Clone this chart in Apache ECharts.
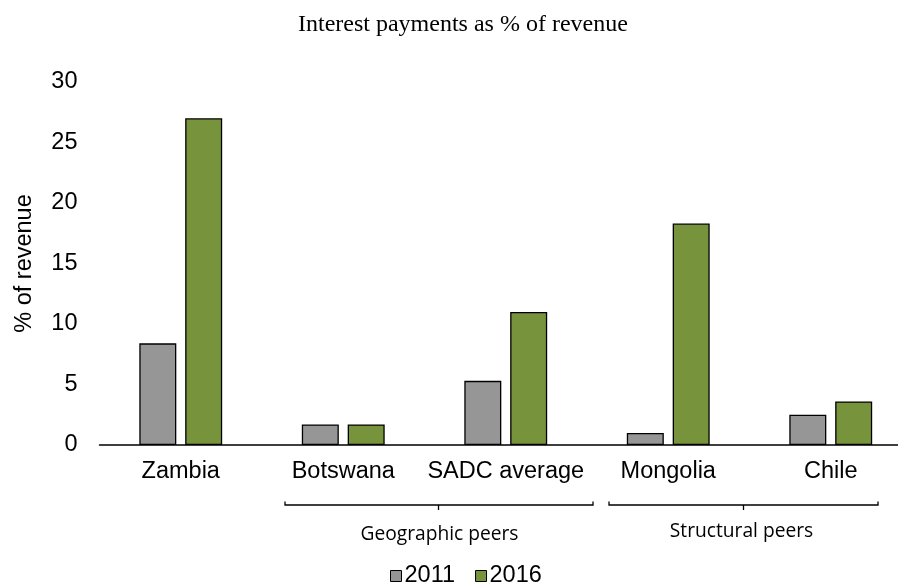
<!DOCTYPE html>
<html>
<head>
<meta charset="utf-8">
<script src="https://cdn.jsdelivr.net/npm/echarts@6/dist/echarts.min.js"></script>
<style>html,body{margin:0;padding:0;background:#fff;overflow:hidden;width:898px;height:583px}#c{width:912px;height:583px}</style>
</head>
<body>
<div id="c"></div>
<script>
var categories = ['Zambia', 'Botswana', 'SADC average', 'Mongolia', 'Chile'];
var series2011 = [8.4, 1.7, 5.3, 1.0, 2.5];
var series2016 = [27.0, 1.7, 11.0, 18.3, 3.6];
var seriesNames = ['2011', '2016'];
var yTicks = { min: 0, max: 30, interval: 5 };
var groupLabels = ['Geographic peers', 'Structural peers'];

var chart = echarts.init(document.getElementById('c'), null, { renderer: 'canvas' });
var axisFont = 'Liberation Sans, Arial, sans-serif';
var groupFont = 'Open Sans, sans-serif';
var option = {
  animation: false,
  backgroundColor: '#ffffff',
  title: {
    text: 'Interest payments as % of revenue',
    left: 293,
    top: 8,
    textStyle: { fontFamily: 'Liberation Serif, Times New Roman, serif', fontSize: 24, fontWeight: 'normal', color: '#000' }
  },
  grid: { left: 99.5, right: 0, top: 82, bottom: 138, containLabel: false },
  legend: {
    data: seriesNames,
    left: 385,
    top: 559,
    itemWidth: 11,
    itemHeight: 11,
    itemGap: 20,
    icon: 'rect',
    textStyle: { fontFamily: axisFont, fontSize: 23.5, color: '#000', padding: [0, 0, 0, -2] },
    itemStyle: { borderColor: '#000', borderWidth: 1 }
  },
  xAxis: {
    type: 'category',
    data: categories,
    axisLine: { lineStyle: { color: '#000', width: 1.5 } },
    axisTick: { show: false },
    axisLabel: { margin: 15, fontFamily: axisFont, fontSize: 23.5, color: '#000', interval: 0 },
    splitLine: { show: false }
  },
  yAxis: {
    type: 'value',
    min: yTicks.min, max: yTicks.max, interval: yTicks.interval,
    name: '% of revenue',
    nameLocation: 'middle',
    nameRotate: 90,
    nameGap: 63,
    nameTextStyle: { fontFamily: axisFont, fontSize: 23.5, color: '#000' },
    axisLine: { show: false },
    axisTick: { show: false },
    splitLine: { show: false },
    axisLabel: { margin: 22, fontFamily: axisFont, fontSize: 23.5, color: '#000' }
  },
  series: [
    {
      name: seriesNames[0], type: 'bar', data: series2011,
      barWidth: 37, barGap: '24%',
      itemStyle: { color: '#969696', borderColor: '#000', borderWidth: 1.3 }
    },
    {
      name: seriesNames[1], type: 'bar', data: series2016,
      barWidth: 37, barGap: '24%',
      itemStyle: { color: '#77933C', borderColor: '#000', borderWidth: 1.3 }
    }
  ],
  graphic: [
    { type: 'polyline', shape: { points: [[285, 501.5], [285, 505], [593, 505], [593, 501.5]] }, style: { stroke: '#000', lineWidth: 1.3, fill: null } },
    { type: 'line', shape: { x1: 438.5, y1: 505, x2: 438.5, y2: 510 }, style: { stroke: '#000', lineWidth: 1.3 } },
    { type: 'polyline', shape: { points: [[609, 501.5], [609, 505], [878, 505], [878, 501.5]] }, style: { stroke: '#000', lineWidth: 1.3, fill: null } },
    { type: 'line', shape: { x1: 743.5, y1: 505, x2: 743.5, y2: 510 }, style: { stroke: '#000', lineWidth: 1.3 } },
    { type: 'text', x: 439.5, y: 535, style: { text: groupLabels[0], fontFamily: groupFont, fontSize: 19.2, fill: '#000', align: 'center', verticalAlign: 'middle' } },
    { type: 'text', x: 741.5, y: 532, style: { text: groupLabels[1], fontFamily: groupFont, fontSize: 19.2, fill: '#000', align: 'center', verticalAlign: 'middle' } }
  ]
};
chart.setOption(option);
</script>
</body>
</html>
